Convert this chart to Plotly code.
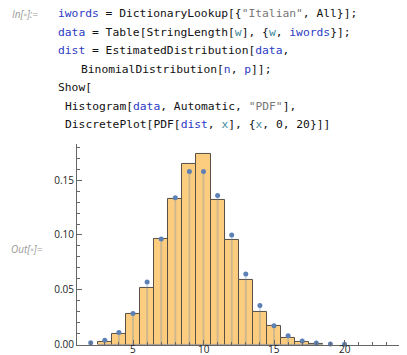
import plotly.graph_objects as go

# ---- data ----
hist_bins = [3, 4, 5, 6, 7, 8, 9, 10, 11, 12, 13, 14, 15, 16, 17, 18]
hist_pdf = [0.002, 0.0092, 0.0281, 0.0514, 0.0963, 0.133, 0.1646, 0.174,
            0.132, 0.0954, 0.0589, 0.0296, 0.0171, 0.0063, 0.0027, 0.0009]
pdf_x = list(range(0, 21))
pdf_y = [0.0001, 0.0004, 0.0015, 0.0040, 0.011, 0.0284, 0.057, 0.0963, 0.134,
         0.158, 0.158, 0.136, 0.0999, 0.0643, 0.0356, 0.0171, 0.0081, 0.0032,
         0.0014, 0.0005, 0.0002]
x_ticks = [5, 10, 15, 20]
x_tick_labels = ["5", "10", "15", "20"]
y_ticks = [0.0, 0.05, 0.10, 0.15]
y_tick_labels = ["0.00", "0.05", "0.10", "0.15"]

W, H = 407, 355
PT_COLOR = "rgb(94,129,181)"

fig = go.Figure()
fig.add_trace(go.Bar(
    x=hist_bins, y=hist_pdf, width=1,
    marker=dict(color="rgb(253,205,127)",
                line=dict(color="rgb(88,80,70)", width=1)),
    hoverinfo="skip"))

# stems (DiscretePlot filling)
sx, sy = [], []
for xv, yv in zip(pdf_x, pdf_y):
    sx += [xv, xv, None]
    sy += [0, yv, None]
fig.add_trace(go.Scatter(x=sx, y=sy, mode="lines",
                         line=dict(color="rgba(94,129,181,0.28)", width=2),
                         cliponaxis=False, hoverinfo="skip"))
fig.add_trace(go.Scatter(x=pdf_x, y=pdf_y, mode="markers",
                         marker=dict(color=PT_COLOR, size=5),
                         cliponaxis=False, hoverinfo="skip"))

# pixel geometry
px_per_unit = 14.1
x0_px = 54.5
left_px, right_px = 69, 407
xr = [(left_px - x0_px) / px_per_unit, (right_px - x0_px) / px_per_unit]
y0_px, ytop_px = 342.3, 138.3
yr = [0, (y0_px - ytop_px) / 1114.0]

AX = "#666666"
fig.update_layout(
    width=W, height=H, margin=dict(l=0, r=0, t=0, b=0),
    paper_bgcolor="white", plot_bgcolor="white", showlegend=False,
    bargap=0,
    xaxis=dict(domain=[left_px / W, 1.0], range=xr, showgrid=False,
               zeroline=False, showline=True, linecolor=AX, linewidth=1,
               ticks="inside", ticklen=5, tickcolor=AX, tickvals=x_ticks,
               showticklabels=False,
               minor=dict(dtick=1, tick0=0, ticks="inside", ticklen=3, tickcolor=AX)),
    yaxis=dict(domain=[(H - y0_px) / H, (H - ytop_px) / H], range=yr,
               showgrid=False, zeroline=False, showline=True, linecolor=AX,
               linewidth=1, ticks="inside", ticklen=5, tickcolor=AX,
               tickvals=y_ticks, ticktext=y_tick_labels,
               minor=dict(dtick=0.01, tick0=0, ticks="inside", ticklen=3, tickcolor=AX),
               tickfont=dict(family="Open Sans", size=10, color="#222")),
)

# x tick labels placed just under the axis, flush with the bottom edge
for v, lab in zip(x_ticks, x_tick_labels):
    fig.add_annotation(x=v, xref="x", y=0, yref="paper",
                       xanchor="center", yanchor="bottom", showarrow=False,
                       borderpad=0, text=lab,
                       font=dict(family="Open Sans", size=10, color="#222"))

# ---- notebook code text ----
B = "#2b3bc4"   # global symbols
T = "#3f8a98"   # local variables
S = "#777777"   # strings
K = "#111111"


def c(txt, col=K):
    return f"<span style='color:{col}'>{txt}</span>"


lines = [
    (48, 6, c("iwords", B) + c(" = DictionaryLookup[{") + c("\"Italian\"", S) + c(", All}];")),
    (48, 24.7, c("data", B) + c(" = Table[StringLength[") + c("w", T) + c("], {") + c("w", T)
     + c(", ") + c("iwords", B) + c("}];")),
    (48, 43.5, c("dist", B) + c(" = EstimatedDistribution[") + c("data", B) + c(",")),
    (71, 62.3, c("BinomialDistribution[") + c("n", B) + c(", ") + c("p", B) + c("]];")),
    (48, 81, c("Show[")),
    (55, 100, c("Histogram[") + c("data", B) + c(", Automatic, ") + c("\"PDF\"", S) + c("],")),
    (55, 119, c("DiscretePlot[PDF[") + c("dist", B) + c(", ") + c("x", T) + c("], {") + c("x", T)
     + c(", 0, 20}]]")),
]
for x, y, txt in lines:
    fig.add_annotation(x=x / W, y=1 - y / H, xref="paper", yref="paper",
                       xanchor="left", yanchor="middle", showarrow=False,
                       text=txt, font=dict(family="DejaVu Sans Mono", size=11.3, color=K))

fig.add_annotation(x=2 / W, y=1 - 6 / H, xref="paper", yref="paper",
                   xanchor="left", yanchor="middle", showarrow=False,
                   text="<i>In[<span style='color:#cccccc'>▪</span>]:=</i>",
                   font=dict(family="Open Sans", size=10, color="#999999"))
fig.add_annotation(x=1 / W, y=1 - 245 / H, xref="paper", yref="paper",
                   xanchor="left", yanchor="middle", showarrow=False,
                   text="<i>Out[<span style='color:#cccccc'>▪</span>]=</i>",
                   font=dict(family="Open Sans", size=10, color="#999999"))

fig.write_html("out.html")
